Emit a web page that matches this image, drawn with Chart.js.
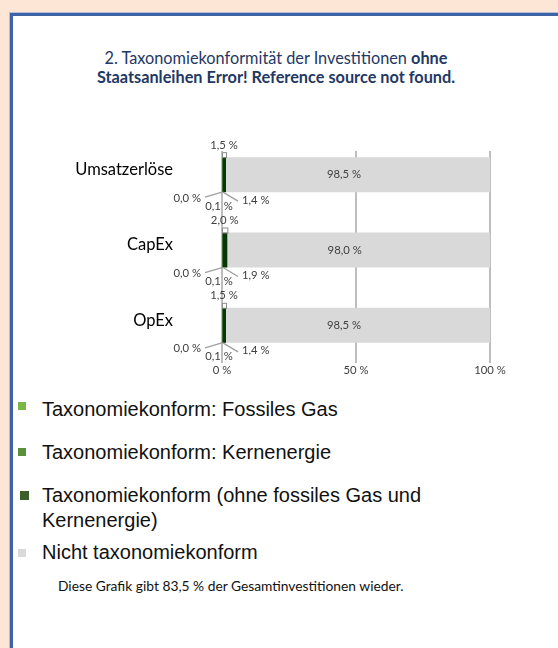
<!DOCTYPE html>
<html>
<head>
<meta charset="utf-8">
<script src="https://cdn.jsdelivr.net/npm/chart.js@4/dist/chart.umd.min.js"></script>
<style>
  html, body { margin: 0; padding: 0; }
  body { width: 558px; height: 648px; background: #fde6d6; position: relative; overflow: hidden; font-family: Lato, "Open Sans", sans-serif; }
  .box { position: absolute; left: 10px; top: 13px; width: 620px; height: 700px; background: #fff;
         border-left: 3px solid #3e62a6; border-top: 3px solid #3e62a6; box-shadow: -1px -1px 0 0 #b4bfd6; }
  .title { position: absolute; left: 12px; width: 528px; top: 48px; text-align: center; color: #1f3864;
           font-family: Lato, sans-serif; font-size: 16.3px; line-height: 19px; }
  #wrap { position: absolute; left: 0; top: 128px; width: 558px; height: 252px; }
  .legend { position: absolute; left: 0; top: 0; font-family: "Liberation Sans", Arial, sans-serif; font-size: 20px; color: #111; }
  .item { position: absolute; left: 42px; white-space: nowrap; line-height: 25px; }
  .sq { position: absolute; width: 8px; height: 8px; }
  .note { position: absolute; left: 58px; top: 577px; font-family: Lato, sans-serif; font-size: 13.8px; color: #111; }
</style>
</head>
<body>
<div class="box"></div>
<div class="title">2. Taxonomiekonformität der Investitionen <b>ohne</b><br><b>Staatsanleihen Error! Reference source not found.</b></div>
<div id="wrap"><canvas id="c" width="558" height="252"></canvas></div>
<div class="legend" id="legend"></div>
<div class="note">Diese Grafik gibt 83,5 % der Gesamtinvestitionen wieder.</div>
<script>
// ---- data ----
const categories = ['Umsatzerlöse', 'CapEx', 'OpEx'];
const fossilGas = [0.0, 0.0, 0.0];
const nuclear = [0.1, 0.1, 0.1];
const alignedOther = [1.4, 1.9, 1.4];
const notAligned = [98.5, 98.0, 98.5];
const totalAligned = [1.5, 2.0, 1.5];
const xTicks = [0, 50, 100];
const seriesNames = [
  'Taxonomiekonform: Fossiles Gas',
  'Taxonomiekonform: Kernenergie',
  'Taxonomiekonform (ohne fossiles Gas und Kernenergie)',
  'Nicht taxonomiekonform'
];

const barColors = ['#7ab648', '#5a8f3c', '#053805', '#d9d9d9'];
const legendColors = ['#7ab648', '#5a8f3c', '#3b5e2b', '#d9d9d9'];

function fmt(v) { return v.toFixed(1).replace('.', ',') + ' %'; }

// ---- legend (HTML) ----
const legendEl = document.getElementById('legend');
const itemTops = [397, 440, 483, 540];
const sqPos = [[18, 402], [18, 448], [20, 491], [18, 549]];
const itemHtml = [
  seriesNames[0], seriesNames[1],
  'Taxonomiekonform (ohne fossiles Gas und<br>Kernenergie)', seriesNames[3]
];
seriesNames.forEach((n, i) => {
  const sq = document.createElement('div');
  sq.className = 'sq';
  sq.style.left = sqPos[i][0] + 'px';
  sq.style.top = sqPos[i][1] + 'px';
  sq.style.background = legendColors[i];
  if (i === 2) { sq.style.width = '9px'; sq.style.height = '9px'; }
  legendEl.appendChild(sq);
  const t = document.createElement('div');
  t.className = 'item';
  t.style.top = itemTops[i] + 'px';
  t.innerHTML = itemHtml[i];
  legendEl.appendChild(t);
});

// ---- plugins ----
const gridPlugin = {
  id: 'gridLines',
  beforeDatasetsDraw(chart) {
    const { ctx, chartArea, scales } = chart;
    ctx.save();
    ctx.strokeStyle = '#a9a9a9';
    ctx.lineWidth = 1.5;
    xTicks.forEach(v => {
      const x = Math.round(scales.x.getPixelForValue(v));
      ctx.beginPath();
      ctx.moveTo(x, chartArea.top + 14);
      ctx.lineTo(x, chartArea.bottom);
      ctx.stroke();
    });
    ctx.restore();
  }
};

const labelPlugin = {
  id: 'labels',
  afterDatasetsDraw(chart) {
    const { ctx, scales } = chart;
    const xs = scales.x, ys = scales.y;
    const x0 = xs.getPixelForValue(0);
    const metaDark = chart.getDatasetMeta(2);
    const metaGrey = chart.getDatasetMeta(3);
    ctx.save();
    // category labels
    ctx.font = '16.5px Lato, sans-serif';
    ctx.fillStyle = '#000';
    ctx.textAlign = 'right';
    ctx.textBaseline = 'middle';
    categories.forEach((c, i) => {
      ctx.fillText(c, x0 - 49, ys.getPixelForValue(i) - 5);
    });
    ctx.font = '11.3px Lato, sans-serif';
    categories.forEach((c, i) => {
      const dark = metaDark.data[i];
      const grey = metaGrey.data[i];
      const top = dark.y - dark.height / 2;
      const bottom = dark.y + dark.height / 2;
      // total box
      const xt = xs.getPixelForValue(totalAligned[i]);
      ctx.fillStyle = '#ffffff';
      ctx.fillRect(x0, top - 5, xt - x0, 5);
      ctx.strokeStyle = '#8c8c8c';
      ctx.lineWidth = 1;
      ctx.strokeRect(x0 + 0.5, top - 5 + 0.5, xt - x0, 5);
      ctx.fillStyle = '#404040';
      ctx.textAlign = 'center';
      ctx.textBaseline = 'middle';
      ctx.fillText(fmt(totalAligned[i]), (x0 + xt) / 2, top - 12);
      // grey bar label
      ctx.fillText(fmt(notAligned[i]), (grey.base + grey.x) / 2 - 14, grey.y);
      // leader lines
      ctx.strokeStyle = '#a0a0a0';
      ctx.lineWidth = 1.3;
      ctx.beginPath();
      ctx.moveTo(x0, bottom);
      ctx.lineTo(x0 - 17, bottom + 5);
      ctx.moveTo(x0 + 1, bottom);
      ctx.lineTo(x0 + 16, bottom + 9);
      ctx.stroke();
      // fossil gas label
      ctx.textAlign = 'right';
      ctx.fillText(fmt(fossilGas[i]), x0 - 21, bottom + 6);
      // nuclear label
      ctx.textAlign = 'center';
      ctx.fillText(fmt(nuclear[i]), x0 - 3, bottom + 14);
      // aligned other label
      ctx.textAlign = 'left';
      ctx.fillText(fmt(alignedOther[i]), x0 + 20, bottom + 8);
    });
    ctx.restore();
  }
};

const data = {
  labels: categories,
  datasets: [
    { label: seriesNames[0], data: fossilGas, backgroundColor: barColors[0] },
    { label: seriesNames[1], data: nuclear, backgroundColor: barColors[1] },
    { label: seriesNames[2], data: alignedOther, backgroundColor: barColors[2] },
    { label: seriesNames[3], data: notAligned, backgroundColor: barColors[3] }
  ]
};

new Chart(document.getElementById('c'), {
  type: 'bar',
  data,
  options: {
    indexAxis: 'y',
    responsive: false,
    animation: false,
    devicePixelRatio: 1,
    barPercentage: 0.465,
    categoryPercentage: 1,
    layout: { padding: { top: 9, right: 68, left: 0, bottom: 0 } },
    plugins: { legend: { display: false }, tooltip: { enabled: false } },
    scales: {
      x: {
        stacked: true, min: 0, max: 100,
        afterBuildTicks(s) { s.ticks = xTicks.map(v => ({ value: v })); },
        afterFit(s) { s.height = 17; },
        grid: { display: false, drawTicks: false },
        border: { display: false },
        ticks: { padding: 1, color: '#404040', font: { family: 'Lato', size: 11.3 }, callback: v => v + ' %', maxRotation: 0 }
      },
      y: {
        stacked: true,
        afterFit(s) { s.width = 222; },
        grid: { display: false, drawTicks: false },
        border: { display: false },
        ticks: { display: false }
      }
    }
  },
  plugins: [gridPlugin, labelPlugin]
});
</script>
</body>
</html>
